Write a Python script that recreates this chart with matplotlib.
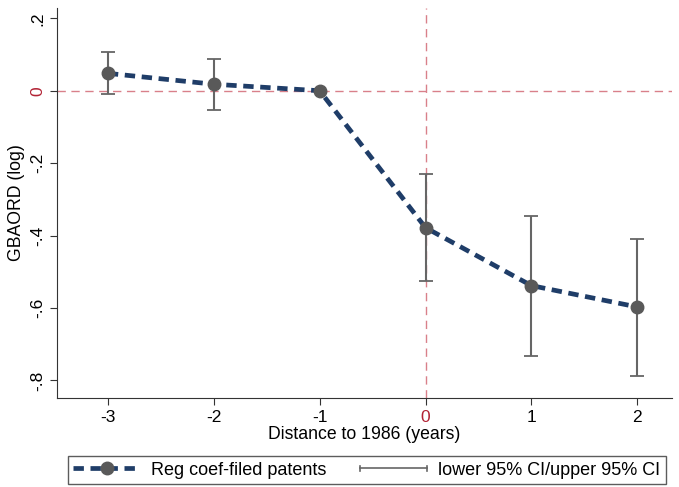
import matplotlib.pyplot as plt
import numpy as np
from matplotlib.legend_handler import HandlerBase
from matplotlib.lines import Line2D

plt.rcParams['font.family'] = ['Liberation Sans', 'DejaVu Sans']

# event-study coefficients
years = [-3, -2, -1, 0, 1, 2]
coef = [0.048, 0.018, 0.0, -0.378, -0.538, -0.597]
ci_low = [-0.010, -0.054, 0.0, -0.525, -0.733, -0.787]
ci_high = [0.106, 0.088, 0.0, -0.230, -0.345, -0.410]
yticks = [0.2, 0, -0.2, -0.4, -0.6, -0.8]
ytick_labels = ['.2', '0', '-.2', '-.4', '-.6', '-.8']

ci_color = '#666666'
red = '#b22234'


class CapHandler(HandlerBase):
    # horizontal range bar |----| for the CI legend entry
    def create_artists(self, legend, orig, xd, yd, w, h, fontsize, trans):
        y = yd + h / 2
        bar = Line2D([xd, xd + w], [y, y], color=ci_color, lw=1.2, transform=trans)
        c1 = Line2D([xd, xd], [y - h * 0.22, y + h * 0.22], color=ci_color, lw=1.2, transform=trans)
        c2 = Line2D([xd + w, xd + w], [y - h * 0.22, y + h * 0.22], color=ci_color, lw=1.2, transform=trans)
        return [bar, c1, c2]


fig = plt.figure(figsize=(6.79, 4.87), dpi=100)
ax = fig.add_axes([0.084, 0.183, 0.906, 0.801])

# reference lines
ax.axhline(0, color='#d9808a', linestyle=(0, (6, 4)), linewidth=1.0, zorder=1)
ax.axvline(0, color='#d9808a', linestyle=(0, (6, 4)), linewidth=1.0, zorder=1)

# confidence intervals
yerr = [np.array(coef) - np.array(ci_low), np.array(ci_high) - np.array(coef)]
ax.errorbar(years, coef, yerr=yerr, fmt='none', ecolor=ci_color,
            elinewidth=1.5, capsize=5, capthick=1.3, zorder=2)

line, = ax.plot(years, coef, color='#1f3d68', linestyle=(0, (2.2, 1.4)), linewidth=3.4,
                marker='o', markersize=9, markerfacecolor='#595959',
                markeredgecolor='#595959', zorder=3)

ax.set_xlim(-3.48, 2.33)
ax.set_ylim(-0.848, 0.229)
ax.set_xticks(years)
ax.set_xticklabels([str(y) for y in years], fontsize=12.5)
ax.set_yticks(yticks)
ax.set_yticklabels(ytick_labels, fontsize=12.5, rotation=90, va='center')
for lab in ax.get_xticklabels() + ax.get_yticklabels():
    if lab.get_text() == '0':
        lab.set_color(red)

ax.spines['top'].set_visible(False)
ax.spines['right'].set_visible(False)
ax.spines['left'].set_color('#333333')
ax.spines['bottom'].set_color('#333333')
ax.tick_params(direction='out', length=5, color='#333333')

ax.set_xlabel('Distance to 1986 (years)', fontsize=12.7, labelpad=1)
ax.set_ylabel('GBAORD (log)', fontsize=12.7, labelpad=4)

ci_handle = Line2D([], [])
fig.legend([line, ci_handle], ['Reg coef-filed patents', 'lower 95% CI/upper 95% CI'],
           handler_map={ci_handle: CapHandler()},
           loc='lower center', bbox_to_anchor=(0.54, 0.002), ncol=2, fontsize=13,
           frameon=True, fancybox=False, edgecolor='#333333', columnspacing=1.9,
           handlelength=3.7, handletextpad=0.6, borderpad=0.3, borderaxespad=0.1)

fig.savefig('out.png', dpi=100)
